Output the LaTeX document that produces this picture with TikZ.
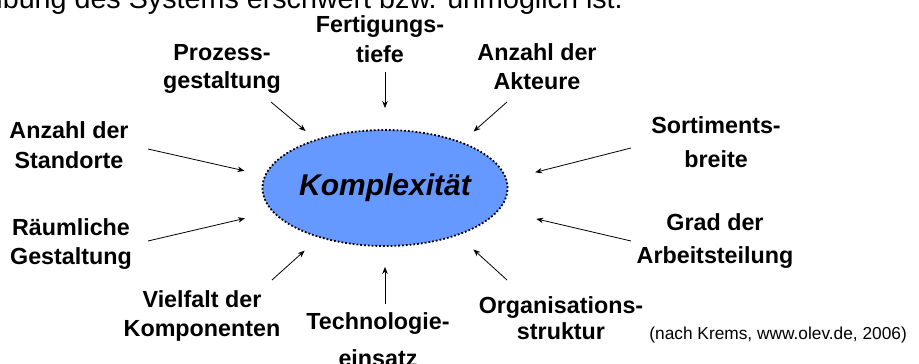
\documentclass[tikz,border=0pt]{standalone}
\usepackage{fontspec}
\setmainfont{Liberation Sans}
\usetikzlibrary{shapes.geometric,arrows.meta}
\definecolor{kblau}{RGB}{102,153,255}
\tikzset{
  faktor/.style={font=\bfseries\fontsize{23.3}{29}\selectfont, align=center, anchor=base, inner sep=0pt},
  pfeil/.style={->, line width=0.8pt},
}
\begin{document}
\begin{tikzpicture}[x=1pt, y=-1pt, >={Stealth[length=7pt,width=5.5pt]}, line join=round]
\clip (0,0) rectangle (919,364);
% Kopfzeile (oben abgeschnitten)
\node[anchor=base east, inner sep=0pt, font=\fontsize{28.7}{34}\selectfont] (kopf) at (623,9) {Beschreibung des Systems erschwert bzw. unmöglich ist.};
% Mitte
\node[ellipse, draw, fill=kblau, line width=1.8pt, dash pattern=on 1.8pt off 2pt, minimum width=245pt, minimum height=116pt, inner sep=0pt, font=\bfseries\itshape\fontsize{30}{36}\selectfont] (komp) at (385,188) {Komplexität};
% Faktoren (Basislinie der letzten Zeile)
\node[faktor] (fert) at (380,62) {Fertigungs-\\[1pt] tiefe};
\node[faktor] (proz) at (222,88) {Prozess-\\[-1pt] gestaltung};
\node[faktor] (anza) at (537,89) {Anzahl der\\ Akteure};
\node[faktor] (anzs) at (69,168) {Anzahl der\\[1pt] Standorte};
\node[faktor] (sort) at (716,167) {Sortiments-\\[5pt] breite};
\node[faktor] (raum) at (71,264) {Räumliche\\ Gestaltung};
\node[faktor] (grad) at (715,263) {Grad der\\[4pt] Arbeitsteilung};
\node[faktor] (viel) at (202,336) {Vielfalt der\\ Komponenten};
\node[faktor] (orga) at (561,339) {Organisations-\\[-3pt] struktur};
\node[faktor] (tech) at (378,366) {Technologie-\\[8pt] einsatz};
\node[anchor=base east, inner sep=0pt, font=\fontsize{17.3}{21}\selectfont] (quelle) at (907,339) {(nach Krems, www.olev.de, 2006)};
% Pfeile
\coordinate (fert-s) at (385,72);
\coordinate (proz-s) at (271,102);
\coordinate (anza-s) at (507,102);
\coordinate (anzs-s) at (148,149);
\coordinate (sort-s) at (631,148);
\coordinate (raum-s) at (148,241);
\coordinate (grad-s) at (631,241);
\coordinate (viel-s) at (272,280);
\coordinate (orga-s) at (507,280);
\coordinate (tech-s) at (385,304);
\draw[pfeil, shorten >=21pt] (fert-s) -- (komp.90);
\draw[pfeil, shorten >=13pt] (proz-s) -- (komp.145.7);
\draw[pfeil, shorten >=15.7pt] (anza-s) -- (komp.31.7);
\draw[pfeil, shorten >=20.5pt] (anzs-s) -- (komp.174.4);
\draw[pfeil, shorten >=29pt] (sort-s) -- (komp.4.5);
\draw[pfeil, shorten >=28pt] (raum-s) -- (komp.-168.5);
\draw[pfeil, shorten >=38pt] (grad-s) -- (komp.-11.3);
\draw[pfeil, shorten >=19.3pt] (viel-s) -- (komp.-143.3);
\draw[pfeil, shorten >=20.8pt] (orga-s) -- (komp.-33.5);
\draw[pfeil, shorten >=20pt] (tech-s) -- (komp.-90);
\end{tikzpicture}
\end{document}
